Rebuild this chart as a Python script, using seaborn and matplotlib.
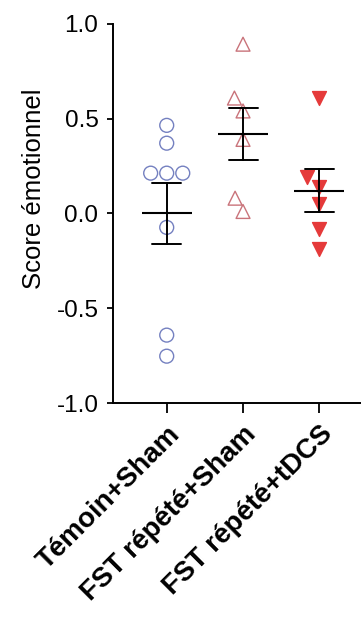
import numpy as np
import pandas as pd
import matplotlib
matplotlib.use("Agg")
import matplotlib.pyplot as plt
import seaborn as sns

categories = ["Témoin+Sham", "FST répété+Sham", "FST répété+tDCS"]
temoin_sham = [0.464, 0.370, 0.212, 0.212, 0.212, -0.074, -0.753, -0.642]
fst_sham = [0.892, 0.608, 0.540, 0.39, 0.01, 0.08]
fst_tdcs = [0.61, 0.19, 0.14, 0.05, -0.08, -0.19]
y_ticks = [-1.0, -0.5, 0.0, 0.5, 1.0]
y_label = "Score émotionnel"

df = pd.DataFrame({
    "group": [categories[0]] * len(temoin_sham) + [categories[1]] * len(fst_sham) + [categories[2]] * len(fst_tdcs),
    "score": temoin_sham + fst_sham + fst_tdcs,
})

sns.set_theme(style="ticks")
plt.rcParams["font.family"] = ["Liberation Sans", "DejaVu Sans"]

fig = plt.figure(figsize=(3.61, 6.17), dpi=100)
ax = fig.add_axes([0.313, 0.3468, 0.687, 0.6148])

styles = [
    dict(marker="o", edge="#7480c0", face="none"),
    dict(marker="^", edge="#c9737a", face="none"),
    dict(marker="v", edge="#e53a3a", face="#e53a3a"),
]
for cat, st in zip(categories, styles):
    n_before = len(ax.collections)
    sns.swarmplot(data=df[df["group"] == cat], x="group", y="score", order=categories,
                  marker=st["marker"], size=10, color=st["edge"], linewidth=1.0,
                  ax=ax, zorder=2)
    for coll in ax.collections[n_before:]:
        coll.set_facecolor(st["face"])
        coll.set_edgecolor(st["edge"])
        coll.set_linewidth(1.0)

sns.pointplot(data=df, x="group", y="score", order=categories, errorbar="se",
              capsize=0.38, color="black", linestyle="none", marker="_",
              markersize=36, markeredgewidth=1.5, err_kws={"linewidth": 1.4},
              ax=ax, zorder=3)

ax.set_xlim(-0.704, 2.546)
ax.set_ylim(-1.0, 1.0)
ax.set_yticks(y_ticks)
ax.set_yticklabels([f"{t:.1f}" for t in y_ticks], fontsize=17.5)
ax.set_xticks(range(len(categories)))
ax.set_xticklabels(categories, rotation=45, ha="right", rotation_mode="anchor",
                   fontsize=20, fontweight="bold")
ax.set_xlabel("")
ax.set_ylabel(y_label, fontsize=18.5, color="black")
ax.yaxis.set_label_coords(-0.27, 0.564)
ax.tick_params(axis="y", length=4.5, width=1.3, pad=6, colors="black")
ax.tick_params(axis="x", length=7, width=1.3, pad=6, colors="black")
sns.despine(ax=ax)
for s in ["left", "bottom"]:
    ax.spines[s].set_linewidth(1.4)
    ax.spines[s].set_color("black")

fig.savefig("out.png", dpi=100)
